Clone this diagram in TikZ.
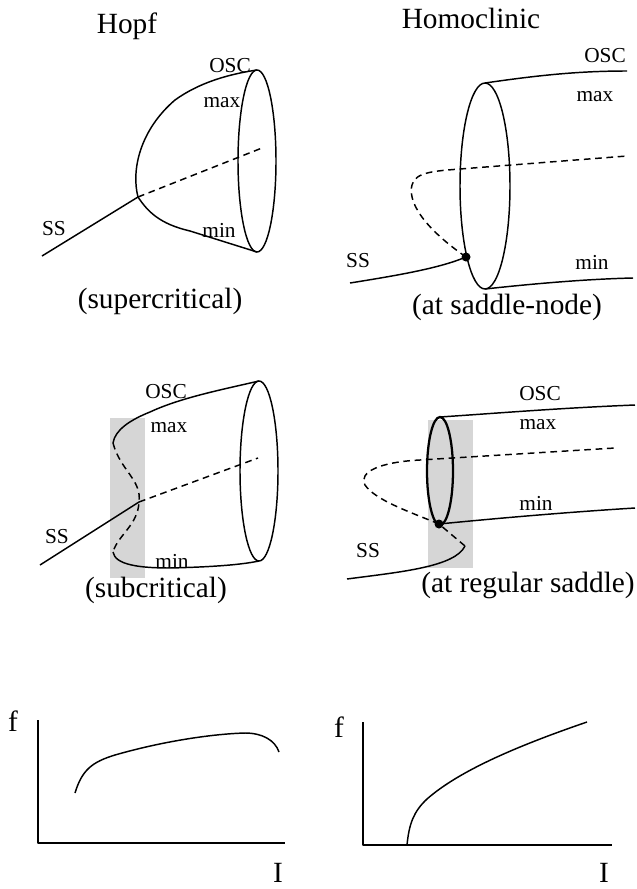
\documentclass[tikz,border=0pt]{standalone}
\usepackage{fontspec}
\setmainfont{Liberation Serif}

\begin{document}
\begin{tikzpicture}[x=0.75pt,y=-0.75pt,
  branch/.style={line width=1.1pt,line join=round},
  unstable/.style={line width=1.1pt,dash pattern=on 5pt off 3.5pt},
  shade/.style={fill=black!16},
  lab/.style={font=\fontsize{16}{19}\selectfont,inner sep=0pt},
  title/.style={font=\fontsize{22}{26}\selectfont,inner sep=0pt,anchor=base}]

\useasboundingbox (0,0) rectangle (636,889);

\node[title] (hopf) at (127,33) {Hopf};
\node[title] (homo) at (471,28) {Homoclinic};

% Hopf, supercritical
\coordinate (hA) at (138,197);
\draw[branch] (42,256) -- (hA);
\draw[branch] (hA) .. controls (131,170) and (140,130) .. (175,100)
  .. controls (200,82) and (230,74) .. (257,70);
\draw[branch] (hA) .. controls (148,212) and (160,224) .. (190,231) -- (257,252);
\draw[unstable] (hA) -- (262,148);
\draw[branch] (257,161) ellipse [x radius=19,y radius=91];
\node[lab] (oscA) at (230,66) {OSC};
\node[lab] (maxA) at (222,103) {max};
\node[lab] (minA) at (219,230) {min};
\node[lab] (ssA) at (54,229) {SS};
\node[title] (capA) at (160,308) {(supercritical)};

% Homoclinic, saddle-node
\coordinate (sn) at (466,257);
\draw[branch] (350,283) .. controls (400,275) and (440,268) .. (sn);
\draw[unstable] (sn) .. controls (420,225) and (408,200) .. (412,185)
  .. controls (415,172) and (435,171) .. (460,169) -- (627,156);
\draw[branch] (485,83) .. controls (540,75) and (580,71) .. (627,71);
\draw[branch] (485,289) .. controls (540,283) and (590,279) .. (633,278);
\draw[branch] (485,186) ellipse [x radius=25,y radius=103];
\fill (sn) circle [radius=4.5];
\node[lab] (oscB) at (605,56) {OSC};
\node[lab] (maxB) at (595,97) {max};
\node[lab] (minB) at (592,262) {min};
\node[lab] (ssB) at (358,261) {SS};
\node[title] (capB) at (507,314) {(at saddle-node)};

% Hopf, subcritical
\fill[shade] (110,418) rectangle (145,578);
\coordinate (hC) at (139,502);
\draw[branch] (40,565) -- (hC);
\draw[branch] (259,381) .. controls (220,390) and (180,398) .. (150,412)
  .. controls (130,420) and (115,430) .. (113,443);
\draw[unstable] (113,443) .. controls (120,470) and (142,480) .. (hC)
  .. controls (138,525) and (118,535) .. (113,552);
\draw[branch] (113,552) .. controls (115,565) and (140,568) .. (170,568)
  .. controls (210,567) and (240,565) .. (259,561);
\draw[unstable] (hC) -- (258,458);
\draw[branch] (259,471) ellipse [x radius=19,y radius=90];
\node[lab] (oscC) at (166,392) {OSC};
\node[lab] (maxC) at (169,428) {max};
\node[lab] (minC) at (172,561) {min};
\node[lab] (ssC) at (57,537) {SS};
\node[title] (capC) at (156,597) {(subcritical)};

% Homoclinic, regular saddle
\fill[shade] (428,420) rectangle (473,568);
\coordinate (rs) at (439,524);
\coordinate (fold) at (465,546);
\draw[branch] (347,579) .. controls (400,572) and (455,567) .. (fold);
\draw[unstable] (fold) -- (rs) .. controls (410,512) and (375,500) .. (365,485)
  .. controls (358,472) and (380,462) .. (420,460) -- (615,448);
\draw[branch] (440,417) .. controls (500,413) and (560,408) .. (635,405);
\draw[branch] (rs) .. controls (500,518) and (570,512) .. (635,508);
\draw[line width=1.7pt] (440,471) ellipse [x radius=13,y radius=54];
\fill (rs) circle [radius=4.5];
\node[lab] (oscD) at (540,394) {OSC};
\node[lab] (maxD) at (538,425) {max};
\node[lab] (minD) at (536,503) {min};
\node[lab] (ssD) at (368,551) {SS};
\node[title] (capD) at (528,592) {(at regular saddle)};

% f-I curves
\draw[branch] (38,720) -- (38,843) -- (285,843);
\draw[branch] (75,793) .. controls (82,770) and (92,762) .. (115,755)
  .. controls (160,742) and (210,734) .. (245,733)
  .. controls (262,733) and (275,740) .. (279,752);
\node[title] (fA) at (13,731) {f};
\node[title] (iA) at (278,882) {I};

\draw[branch] (363,722) -- (363,845) -- (612,845);
\draw[branch] (407,845) .. controls (409,825) and (413,812) .. (427,799)
  .. controls (460,770) and (520,745) .. (587,722);
\node[title] (fB) at (339,737) {f};
\node[title] (iB) at (604,882) {I};
\end{tikzpicture}
\end{document}
